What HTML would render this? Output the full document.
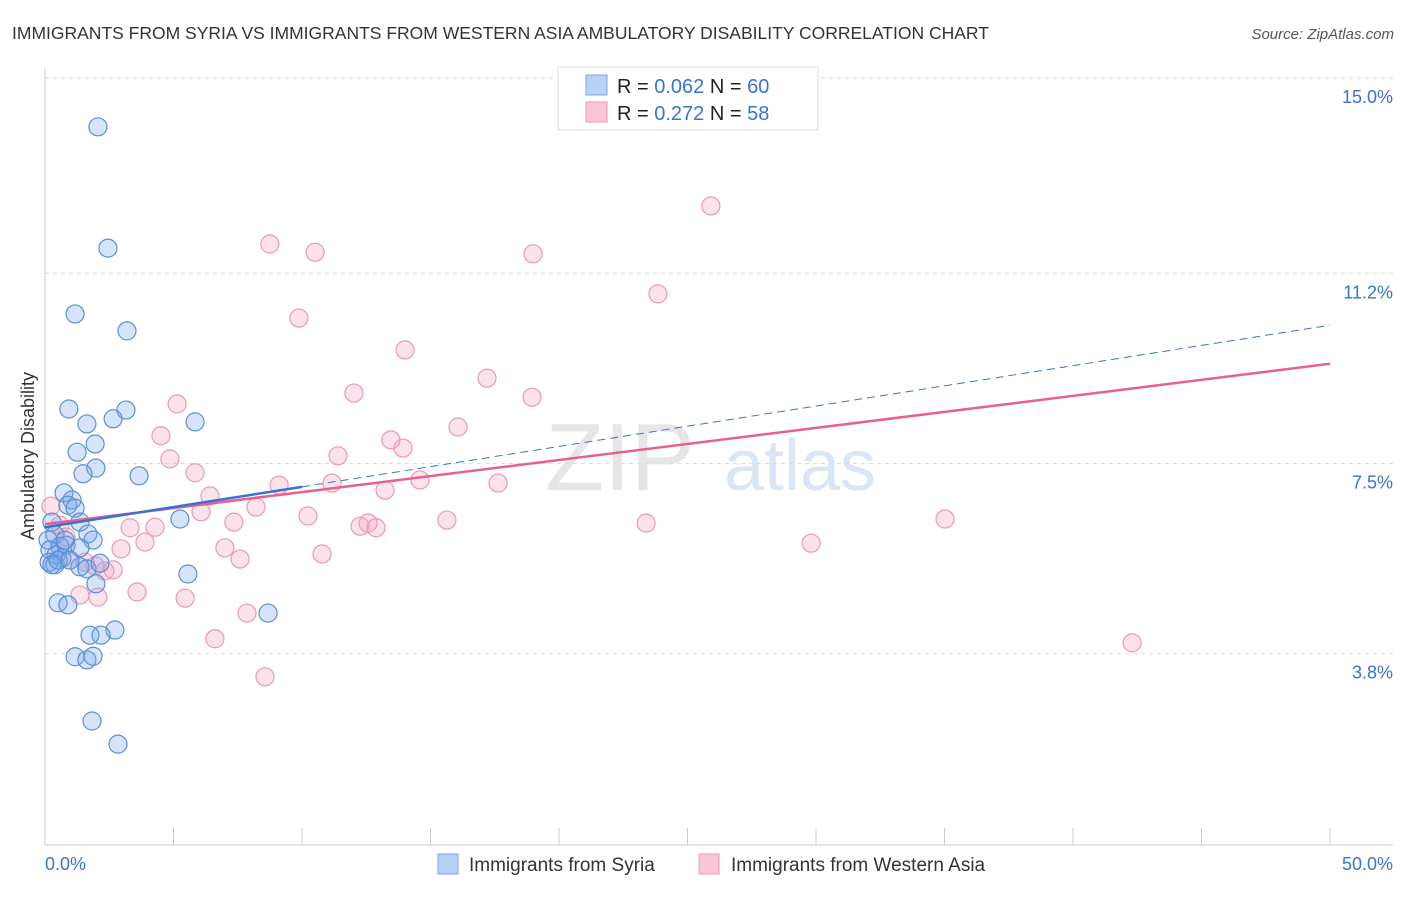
<!DOCTYPE html>
<html><head><meta charset="utf-8"><style>
body{margin:0;background:#fff;font-family:"Liberation Sans",sans-serif;}
svg text{font-family:"Liberation Sans",sans-serif;}
</style></head><body>
<svg id="chart" width="1406" height="892" xmlns="http://www.w3.org/2000/svg">
<text x="12" y="39" font-size="17.5" fill="#333">IMMIGRANTS FROM SYRIA VS IMMIGRANTS FROM WESTERN ASIA AMBULATORY DISABILITY CORRELATION CHART</text>
<text x="1394" y="39" font-size="15" fill="#555" font-style="italic" text-anchor="end">Source: ZipAtlas.com</text>
<text x="620" y="490" font-size="96" fill="#e6e6e6" font-family="Liberation Serif" text-anchor="middle">ZIP</text>
<text x="800" y="490" font-size="72" fill="#dbe6f5" text-anchor="middle">atlas</text>
<g id="grid"></g>
<g id="axes"></g>
<g id="marks"></g>
<text transform="translate(34,456) rotate(-90)" font-size="18" fill="#333" text-anchor="middle">Ambulatory Disability</text>
<g>
<rect x="558" y="67" width="260" height="63" fill="#fff" stroke="#ddd"/>
<rect x="586" y="75" width="21" height="20" fill="#b8d0f3" stroke="#7aa4e0"/>
<rect x="586" y="102" width="21" height="20" fill="#f9c6d6" stroke="#eb98b6"/>
<text x="617" y="93" font-size="20" fill="#222">R = <tspan fill="#3a72d4">0.062</tspan>   N = <tspan fill="#3a72d4">60</tspan></text>
<text x="617" y="120" font-size="20" fill="#222">R =  <tspan fill="#3a72d4">0.272</tspan>   N =  <tspan fill="#3a72d4">58</tspan></text>
</g>
<g>
<rect x="438" y="854" width="20" height="20" fill="#b8d0f3" stroke="#7aa4e0"/>
<text x="469" y="871" font-size="19" fill="#333">Immigrants from Syria</text>
<rect x="699" y="854" width="20" height="20" fill="#f9c6d6" stroke="#eb98b6"/>
<text x="731" y="871" font-size="19" fill="#333">Immigrants from Western Asia</text>
</g>
</svg>
<script>
const yTicks=[15.0,11.2,7.5,3.8];
const yTickLabels=["15.0%","11.2%","7.5%","3.8%"];
const xTickLabels=["0.0%","50.0%"];
const syriaX=[2.06,2.45,1.17,3.19,0.93,3.15,1.63,2.65,5.84,1.25,1.95,1.98,1.48,3.66,0.74,1.05,0.89,1.17,5.25,1.36,0.27,1.67,0.39,1.87,0.12,0.82,0.58,1.36,0.19,0.43,0.66,0.16,0.39,1.36,1.63,2.14,5.56,1.98,0.51,0.89,8.68,1.75,2.72,2.18,1.17,1.63,1.87,1.83,2.84,0.27,0.51,0.78,0.97];
const syriaY=[14.05,11.69,10.41,10.08,8.56,8.54,8.27,8.37,8.31,7.72,7.88,7.41,7.30,7.26,6.93,6.79,6.69,6.63,6.42,6.36,6.36,6.13,6.11,6.01,6.01,5.91,5.89,5.86,5.82,5.72,5.66,5.58,5.53,5.49,5.45,5.56,5.35,5.16,4.79,4.75,4.59,4.16,4.26,4.16,3.74,3.68,3.75,2.49,2.04,5.53,5.62,6.01,5.62];
const waX=[25.91,8.75,10.51,18.99,23.85,9.88,14.01,17.20,12.02,18.95,5.14,16.07,4.51,13.46,13.93,4.86,11.40,5.84,9.11,11.17,14.59,17.63,13.23,6.42,0.23,8.21,6.07,10.23,15.64,7.35,23.39,35.02,12.26,3.31,4.28,12.57,12.88,3.89,0.82,7.00,2.96,29.81,10.78,7.59,0.97,2.33,2.65,1.95,1.36,2.06,3.58,5.45,7.86,6.61,42.30,8.56,0.58,1.56];
const waY=[12.51,11.77,11.61,11.58,10.80,10.33,9.71,9.16,8.87,8.79,8.66,8.21,8.04,7.96,7.80,7.59,7.65,7.32,7.08,7.12,7.18,7.12,6.98,6.87,6.67,6.65,6.56,6.48,6.40,6.36,6.34,6.42,6.28,6.25,6.26,6.34,6.25,5.97,6.07,5.86,5.84,5.95,5.74,5.64,5.62,5.41,5.43,5.51,4.94,4.90,5.00,4.88,4.59,4.09,4.01,3.35,6.30,5.58];
const syriaTrend=[6.26,10.19];
const waTrend=[6.32,9.44];
const NS="http://www.w3.org/2000/svg";
const X=v=>45+v*25.7, Y=v=>849-v*51.4;
function mk(tag,attrs,parent){const e=document.createElementNS(NS,tag);for(const k in attrs)e.setAttribute(k,attrs[k]);parent.appendChild(e);return e;}
const grid=document.getElementById('grid'),axes=document.getElementById('axes'),marks=document.getElementById('marks');
yTicks.forEach((t,i)=>{
 const l=mk('line',{x1:45,x2:1393,y1:Y(t),y2:Y(t),stroke:'#ddd','stroke-dasharray':'4,4'},grid);
 
 
 const tx=mk('text',{x:1393,y:Y(t)+25,'font-size':18,fill:'#3a72d4','text-anchor':'end'},axes);
 tx.textContent=yTickLabels[i];
 
 
});
const ax=mk('line',{x1:45,x2:1393,y1:845,y2:845,stroke:'#ccc'},axes);


const ay=mk('line',{x1:45,x2:45,y1:68,y2:845,stroke:'#ccc'},axes);


for(let i=0;i<=10;i++){
 const t=mk('line',{x1:X(i*5),x2:X(i*5),y1:828,y2:845,stroke:'#ccc'},axes);
 
 
}
const xl0=mk('text',{x:45,y:870,'font-size':18,fill:'#3a72d4'},axes);
xl0.textContent=xTickLabels[0];


const xl1=mk('text',{x:1393,y:870,'font-size':18,fill:'#3a72d4','text-anchor':'end'},axes);
xl1.textContent=xTickLabels[1];


waX.forEach((x,i)=>{
 const c=mk('circle',{cx:X(x),cy:Y(waY[i]),r:9,fill:'rgba(244,160,190,0.3)',stroke:'#eb98b6','stroke-width':1.2},marks);
 
 
});
syriaX.forEach((x,i)=>{
 const c=mk('circle',{cx:X(x),cy:Y(syriaY[i]),r:9,fill:'rgba(120,165,235,0.3)',stroke:'#5b8fd6','stroke-width':1.2},marks);
 
 
});
const sAt=x=>syriaTrend[0]+(syriaTrend[1]-syriaTrend[0])*x/50;
const t1=mk('line',{x1:X(10),y1:Y(sAt(10)),x2:X(50),y2:Y(sAt(50)),stroke:'#3a72d4','stroke-width':1,'stroke-dasharray':'8,5'},marks);


const t2=mk('line',{x1:X(0),y1:Y(waTrend[0]),x2:X(50),y2:Y(waTrend[1]),stroke:'#e8608e','stroke-width':2.5},marks);


const t3=mk('line',{x1:X(0),y1:Y(sAt(0)),x2:X(10),y2:Y(sAt(10)),stroke:'#3a72d4','stroke-width':2.5},marks);


</script>
</body></html>
